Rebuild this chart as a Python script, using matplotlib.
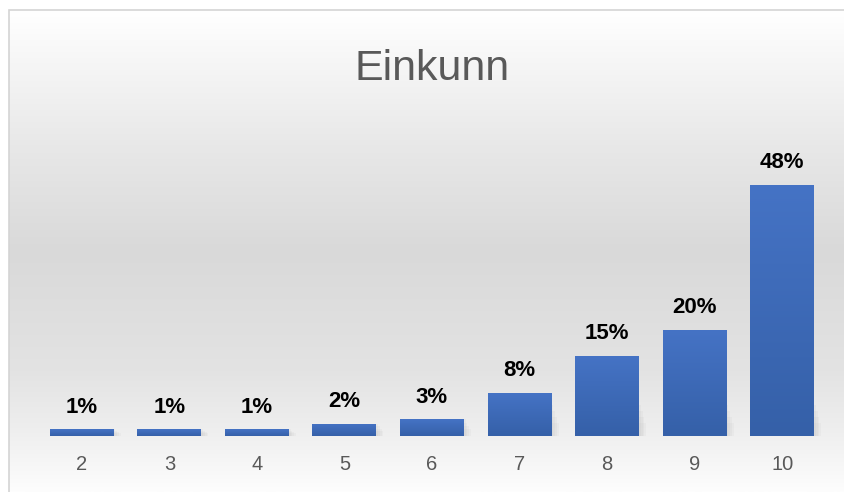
import numpy as np
import matplotlib.pyplot as plt
from matplotlib.colors import LinearSegmentedColormap
from matplotlib.patches import Rectangle

# gögn lesin af myndinni
einkunnir = ['2', '3', '4', '5', '6', '7', '8', '9', '10']
hlutfall = [1.3, 1.3, 1.3, 2.3, 3.2, 8.2, 15.3, 20.3, 48.0]
merki = ['1%', '1%', '1%', '2%', '3%', '8%', '15%', '20%', '48%']
titill = 'Einkunn'

plt.rcParams['font.family'] = ['Liberation Sans', 'DejaVu Sans']

fig = plt.figure(figsize=(8.45, 4.92), dpi=100)
W, H = 845, 492

# bakgrunnur með litabreytingu eins og í Excel
bg = fig.add_axes([9 / W, 0, 1, (H - 10) / H], zorder=0)
bg_cmap = LinearSegmentedColormap.from_list('bg', [
    (0.0, '#ffffff'), (0.28, '#e8e8e8'), (0.5, '#d9d9d9'),
    (0.75, '#e3e3e3'), (0.88, '#efefef'), (1.0, '#fdfdfd')])
grad = np.linspace(0, 1, 256).reshape(-1, 1)
bg.imshow(grad, cmap=bg_cmap, aspect='auto', extent=[0, 1, 0, 1])
bg.set_axis_off()
fig.patches.append(Rectangle((9 / W, -0.1), 1, 1.1 - 10 / H,
                             transform=fig.transFigure, fill=False,
                             edgecolor='#d4d4d4', linewidth=1.2, zorder=1))

ax = fig.add_axes([38 / W, (H - 436) / H, (826 - 38) / W, (436 - 160) / H], zorder=2)
ax.patch.set_alpha(0)
x = np.arange(len(einkunnir))
bars = ax.bar(x, hlutfall, width=0.73, color='#3f6cbb', zorder=3)

# dekkri neðst, ljósari efst
bar_cmap = LinearSegmentedColormap.from_list('bar', ['#3560a8', '#4573c5'])
for b in bars:
    # mjúkur skuggi neðst til hægri
    for i in range(4):
        sh = Rectangle((b.get_x() + 0.02 + i * 0.02, 0), b.get_width(),
                       min(b.get_height(), 6) * (1 - i * 0.2),
                       facecolor='#808080', alpha=0.05, linewidth=0, zorder=2)
        ax.add_patch(sh)
    im = ax.imshow(grad, cmap=bar_cmap, aspect='auto', origin='lower', zorder=4,
                   extent=[b.get_x(), b.get_x() + b.get_width(), 0, b.get_height()])
    im.set_clip_path(b)

for xi, v, m in zip(x, hlutfall, merki):
    ax.annotate(m, (xi, v), xytext=(0, 12), textcoords='offset points',
                ha='center', va='baseline', fontsize=16, fontweight='bold',
                color='black', zorder=5)

ax.set_xlim(-0.5, len(einkunnir) - 0.5)
ax.set_ylim(0, 52.8)
ax.set_xticks(x)
ax.set_xticklabels(einkunnir)
ax.set_yticks([])
ax.tick_params(axis='x', length=0, pad=14, labelsize=14.5, labelcolor='#595959')
for s in ax.spines.values():
    s.set_visible(False)

fig.text(432.5 / W, (H - 80) / H, titill, ha='center', va='baseline',
         fontsize=31, color='#595959')

fig.savefig('out.png', dpi=100)
